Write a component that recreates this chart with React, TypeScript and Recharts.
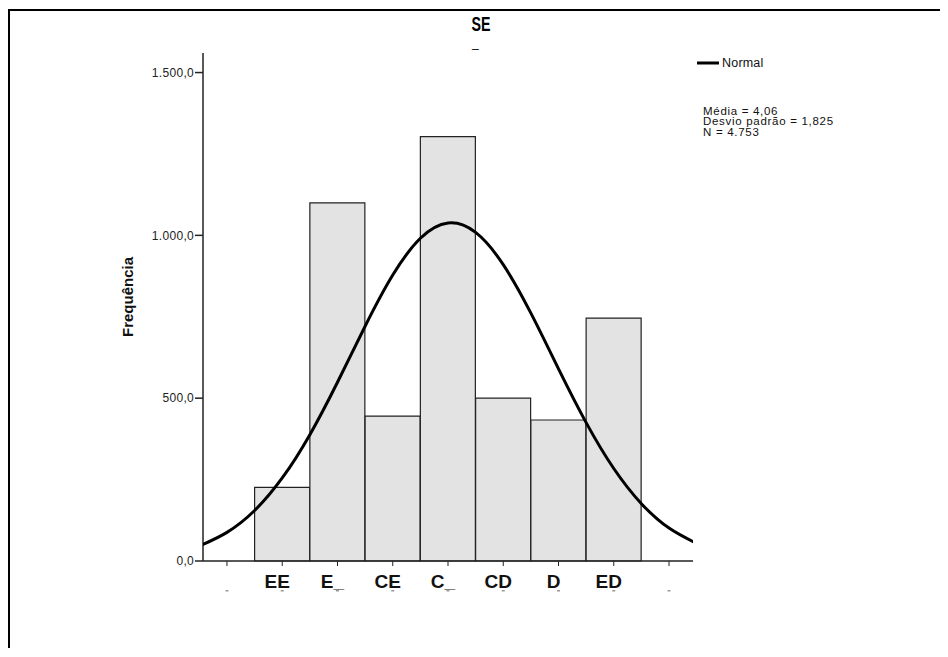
import React from 'react';
import { ComposedChart, Bar, Line, XAxis, YAxis } from 'recharts';

// histogram bins (x = category code)
const binX = [1, 2, 3, 4, 5, 6, 7];
const binCounts = [226, 1100, 445, 1303, 500, 433, 746];

const curveX = [-0.5, 0, 0.5, 1, 1.5, 2, 2.5, 3, 3.5, 4, 4.5, 5, 5.5, 6, 6.5, 7, 7.5, 8, 8.5];
const curveY = [46, 88, 155, 255, 388, 549, 721, 878, 991, 1038, 1009, 910, 761, 590, 425, 284, 176, 101, 54];

const xTicks = [0, 1, 2, 3, 4, 5, 6, 7, 8];
const xTickLabels = ['', 'EE', 'E_', 'CE', 'C_', 'CD', 'D', 'ED', ''];
const yTicks = [0, 500, 1000, 1500];

const statsLines = ['Média = 4,06', 'Desvio padrão = 1,825', 'N = 4.753'];

const X_DOMAIN: [number, number] = [-0.434, 8.434];
const Y_DOMAIN: [number, number] = [0, 1560];

const W = 932;
const H = 640;
const FONT = '"Liberation Sans", Arial, sans-serif';

const barData = binX.map((x, i) => ({ x, count: binCounts[i] }));
const curveData = curveX.map((x, i) => ({ x, normal: curveY[i] }));

// pt-BR style: 1.500,0
const fmtY = (v: number) => {
  const s = Math.round(v).toString().replace(/\B(?=(\d{3})+(?!\d))/g, '.');
  return s + ',0';
};

const XTick = (props: any) => {
  const { x, y, payload } = props;
  const label = xTickLabels[xTicks.indexOf(payload.value)] ?? '';
  return (
    <g>
      <text x={x - 5} y={y + 20} textAnchor="middle" fontSize={19} fontWeight="bold" fill="#111" fontFamily={FONT}>
        {label}
      </text>
      <rect x={x - 1.5} y={y + 22} width={3} height={1.5} fill="#999" />
    </g>
  );
};

export default function App() {
  return (
    <div style={{ position: 'relative', width: W, height: H, overflow: 'hidden', fontFamily: FONT }}>
      {/* outer frame: only top and left edges are visible */}
      <div
        style={{
          position: 'absolute', left: 0, top: 1, width: 1200, height: 1200,
          borderLeft: '2px solid #000', borderTop: '2px solid #000',
        }}
      />

      {/* bars + axes */}
      <div style={{ position: 'absolute', left: 0, top: 0 }}>
        <ComposedChart
          width={W}
          height={H}
          data={barData}
          margin={{ top: 45, right: 247, bottom: 47, left: 135 }}
          barCategoryGap={0}
          barGap={0}
        >
          <XAxis
            dataKey="x"
            type="number"
            domain={X_DOMAIN}
            ticks={xTicks}
            interval={0}
            height={40}
            tickSize={5}
            tickMargin={2}
            tick={<XTick />}
            tickLine={{ stroke: '#222' }}
            axisLine={{ stroke: '#222', strokeWidth: 1.5 }}
          />
          <XAxis
            xAxisId="top"
            orientation="top"
            dataKey="x"
            type="number"
            domain={X_DOMAIN}
            height={0}
            tick={false}
            tickLine={false}
            axisLine={{ stroke: '#777', strokeWidth: 2 }}
          />
          <YAxis
            type="number"
            domain={Y_DOMAIN}
            ticks={yTicks}
            width={60}
            tickSize={8}
            tickMargin={1}
            tickFormatter={fmtY}
            tick={{ fontSize: 12, fill: '#222', fontFamily: FONT, letterSpacing: 0.3 }}
            tickLine={{ stroke: '#222', strokeWidth: 1.5 }}
            axisLine={{ stroke: '#222', strokeWidth: 1.5 }}
          />
          <YAxis
            yAxisId="right"
            orientation="right"
            type="number"
            domain={Y_DOMAIN}
            width={0}
            tick={false}
            tickLine={false}
            axisLine={{ stroke: '#333', strokeWidth: 1.5 }}
          />
          <Bar dataKey="count" fill="#e3e3e3" stroke="#222" strokeWidth={1.2} isAnimationActive={false} />
        </ComposedChart>
      </div>

      {/* normal curve overlay, same plot box */}
      <div style={{ position: 'absolute', left: 0, top: 0 }}>
        <ComposedChart
          width={W}
          height={H}
          data={curveData}
          margin={{ top: 45, right: 247, bottom: 87, left: 195 }}
        >
          <XAxis dataKey="x" type="number" domain={X_DOMAIN} allowDataOverflow hide />
          <YAxis type="number" domain={Y_DOMAIN} allowDataOverflow hide />
          <Line
            dataKey="normal"
            type="natural"
            stroke="#000"
            strokeWidth={3}
            dot={false}
            activeDot={false}
            isAnimationActive={false}
          />
        </ComposedChart>
      </div>

      {/* titles, axis title, legend */}
      <svg width={W} height={H} style={{ position: 'absolute', left: 0, top: 0 }}>
        <text
          x={473}
          y={23}
          textAnchor="middle"
          fontSize={20}
          fontWeight="bold"
          fill="#000"
          fontFamily={FONT}
          textLength={19}
          lengthAdjust="spacingAndGlyphs"
        >
          SE
        </text>
        <text x={464} y={39} fontSize={12} fill="#000" fontFamily={FONT}>_</text>

        <text
          x={119}
          y={289}
          textAnchor="middle"
          dominantBaseline="central"
          fontSize={15}
          fontWeight="bold"
          fill="#111"
          fontFamily={FONT}
          transform="rotate(-90 119 289)"
        >
          Frequência
        </text>

        <line x1={689} y1={55} x2={711} y2={55} stroke="#000" strokeWidth={3} />
        <text x={714} y={59} fontSize={12.5} fill="#111" fontFamily={FONT} letterSpacing={0.2}>
          Normal
        </text>
        {statsLines.map((s, i) => (
          <text key={s} x={695} y={106.5 + i * 10.5} fontSize={11.5} fill="#111" fontFamily={FONT} letterSpacing={0.7}>
            {s}
          </text>
        ))}
      </svg>
    </div>
  );
}
